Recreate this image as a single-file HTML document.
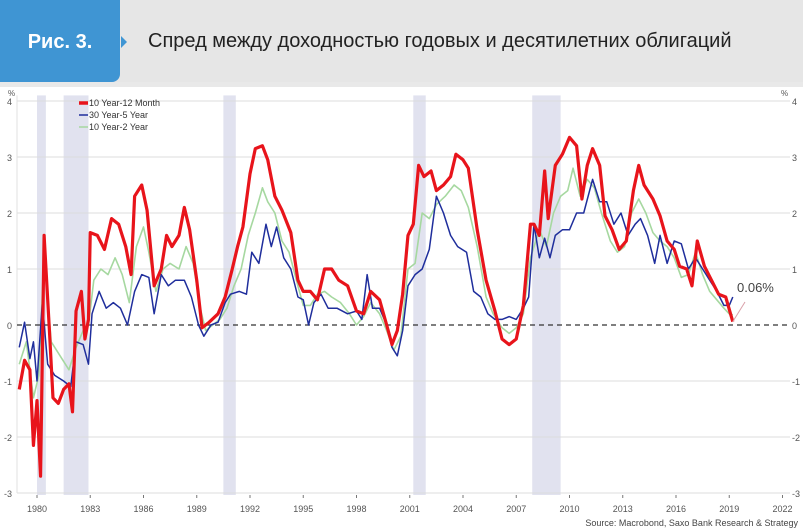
<!DOCTYPE html>
<html><head><meta charset="utf-8"><style>
body{margin:0;width:803px;height:531px;overflow:hidden;background:#e9e9e9;font-family:"Liberation Sans",sans-serif}
#hdr{position:absolute;left:0;top:0;width:803px;height:82px;background:#e6e6e6}
#tab{position:absolute;left:0;top:0;width:120px;height:82px;background:#3f95d3;border-bottom-right-radius:8px;color:#fff;font-weight:bold;font-size:20px;line-height:84px;text-align:center}
#title{position:absolute;left:148px;top:30px;font-size:20px;color:#222}
#panel{position:absolute;left:0;top:87px;width:803px;height:444px;background:#fff}
</style></head><body>
<div id="hdr"></div>
<div id="tab">Рис. 3.</div>
<div style="position:absolute;left:121px;top:36px;width:0;height:0;border-top:6px solid transparent;border-bottom:6px solid transparent;border-left:6px solid #3f95d3"></div>
<div id="title">Спред между доходностью годовых и десятилетних облигаций</div>
<div id="panel"></div>
<svg id="chart" width="803" height="531" style="position:absolute;left:0;top:0"></svg>
<script>
const redYears=[1979.0,1979.3,1979.6,1979.8,1980.0,1980.2,1980.4,1980.7,1980.9,1981.2,1981.5,1981.8,1982.0,1982.2,1982.5,1982.7,1982.9,1983.0,1983.4,1983.8,1984.2,1984.6,1985.0,1985.3,1985.5,1985.9,1986.2,1986.6,1987.0,1987.3,1987.6,1988.0,1988.3,1988.6,1989.0,1989.3,1989.7,1990.2,1990.6,1991.0,1991.3,1991.6,1992.0,1992.3,1992.7,1993.0,1993.4,1993.8,1994.3,1994.7,1995.0,1995.4,1995.8,1996.2,1996.6,1997.0,1997.5,1998.0,1998.4,1998.8,1999.3,1999.7,2000.0,2000.3,2000.6,2000.9,2001.2,2001.5,2001.8,2002.2,2002.5,2002.9,2003.3,2003.6,2004.0,2004.3,2004.8,2005.3,2005.8,2006.2,2006.6,2007.0,2007.4,2007.8,2008.0,2008.3,2008.6,2008.8,2009.2,2009.6,2010.0,2010.4,2010.7,2011.0,2011.3,2011.7,2012.0,2012.4,2012.8,2013.2,2013.6,2013.9,2014.2,2014.7,2015.1,2015.5,2015.9,2016.2,2016.6,2016.9,2017.2,2017.6,2018.0,2018.4,2018.8,2019.2];
const redValues=[-1.15,-0.63,-0.8,-2.15,-1.35,-2.7,1.6,-0.1,-1.3,-1.4,-1.15,-1.05,-1.55,0.25,0.6,-0.25,0.1,1.65,1.6,1.35,1.9,1.8,1.4,0.9,2.3,2.5,2.05,0.7,1.0,1.6,1.4,1.6,2.1,1.7,0.8,-0.05,0.05,0.2,0.5,1.0,1.4,1.75,2.7,3.15,3.2,2.95,2.3,2.05,1.65,0.8,0.6,0.6,0.45,1.0,1.0,0.8,0.7,0.25,0.2,0.6,0.45,0.0,-0.35,-0.1,0.55,1.6,1.8,2.85,2.65,2.75,2.4,2.5,2.65,3.05,2.95,2.8,1.7,0.8,0.25,-0.25,-0.35,-0.25,0.35,1.8,1.8,1.6,2.75,1.9,2.85,3.05,3.35,3.2,2.25,2.85,3.15,2.85,1.95,1.7,1.35,1.5,2.4,2.85,2.5,2.25,1.95,1.5,1.35,1.05,1.0,0.7,1.5,1.05,0.8,0.55,0.5,0.06];
const blueYears=[1979.0,1979.3,1979.6,1979.8,1980.0,1980.3,1980.6,1981.0,1981.5,1981.9,1982.2,1982.6,1982.9,1983.1,1983.5,1983.9,1984.3,1984.7,1985.1,1985.5,1985.9,1986.3,1986.6,1987.0,1987.4,1987.8,1988.3,1988.7,1989.1,1989.4,1989.8,1990.2,1990.6,1990.9,1991.4,1991.8,1992.1,1992.5,1992.9,1993.2,1993.5,1993.9,1994.3,1994.7,1995.0,1995.3,1995.6,1996.0,1996.4,1996.9,1997.5,1998.0,1998.3,1998.6,1998.9,1999.3,1999.7,2000.0,2000.3,2000.6,2000.9,2001.3,2001.7,2002.1,2002.5,2002.9,2003.3,2003.7,2004.2,2004.6,2005.0,2005.4,2005.8,2006.2,2006.6,2007.0,2007.4,2007.7,2008.0,2008.3,2008.6,2008.9,2009.2,2009.6,2010.0,2010.4,2010.8,2011.3,2011.7,2012.1,2012.5,2012.9,2013.3,2013.7,2014.0,2014.4,2014.8,2015.1,2015.5,2015.9,2016.3,2016.7,2017.1,2017.5,2017.9,2018.3,2018.7,2019.0,2019.2];
const blueValues=[-0.4,0.05,-0.6,-0.3,-1.0,0.4,-0.7,-0.9,-1.0,-1.1,-0.3,-0.35,-0.7,0.2,0.6,0.3,0.4,0.3,0.0,0.6,0.9,0.85,0.2,0.9,0.7,0.8,0.8,0.5,0.0,-0.2,0.0,0.05,0.4,0.55,0.6,0.55,1.3,1.1,1.8,1.4,1.75,1.2,1.0,0.5,0.45,0.0,0.4,0.55,0.3,0.3,0.2,0.25,0.1,0.9,0.3,0.3,0.0,-0.4,-0.55,-0.1,0.7,0.9,1.0,1.35,2.3,2.0,1.6,1.4,1.3,0.6,0.5,0.2,0.1,0.1,0.15,0.1,0.3,0.5,1.8,1.2,1.55,1.2,1.6,1.7,1.7,2.0,2.0,2.6,2.2,2.2,1.8,2.0,1.6,1.8,1.9,1.6,1.1,1.6,1.1,1.5,1.45,1.0,1.2,1.0,0.8,0.6,0.35,0.35,0.5];
const greenYears=[1979.0,1979.4,1979.8,1980.1,1980.4,1980.8,1981.3,1981.8,1982.2,1982.6,1982.9,1983.2,1983.6,1984.0,1984.4,1984.8,1985.2,1985.6,1986.0,1986.3,1986.7,1987.1,1987.5,1988.0,1988.4,1988.8,1989.2,1989.5,1989.9,1990.3,1990.7,1991.1,1991.5,1991.9,1992.3,1992.7,1993.0,1993.4,1993.8,1994.2,1994.7,1995.0,1995.4,1995.8,1996.2,1996.6,1997.1,1997.6,1998.0,1998.4,1998.8,1999.3,1999.7,2000.1,2000.5,2000.9,2001.3,2001.7,2002.1,2002.5,2003.0,2003.5,2003.9,2004.3,2004.8,2005.3,2005.7,2006.2,2006.6,2007.0,2007.4,2007.8,2008.3,2008.7,2009.1,2009.5,2009.9,2010.2,2010.6,2011.0,2011.4,2011.8,2012.3,2012.7,2013.1,2013.5,2013.9,2014.3,2014.7,2015.1,2015.5,2015.9,2016.3,2016.7,2017.1,2017.5,2017.9,2018.3,2018.7,2019.0,2019.2];
const greenValues=[-0.7,-0.3,-1.3,-0.9,1.3,-0.3,-0.55,-0.8,-0.4,-0.1,0.0,0.8,1.0,0.9,1.2,0.9,0.4,1.4,1.75,1.3,0.6,1.0,1.1,1.0,1.4,1.1,0.3,-0.1,0.0,0.1,0.3,0.7,1.0,1.6,2.0,2.45,2.2,2.0,1.5,1.3,0.7,0.35,0.35,0.55,0.6,0.5,0.4,0.2,0.0,0.15,0.4,0.2,-0.1,-0.45,-0.2,1.0,1.1,2.0,1.9,2.15,2.3,2.5,2.4,2.1,1.4,0.5,0.2,-0.05,-0.15,-0.05,0.2,1.2,1.7,1.4,2.0,2.3,2.4,2.8,2.3,2.6,2.45,2.0,1.5,1.3,1.4,2.0,2.25,2.0,1.65,1.5,1.4,1.2,0.85,0.9,1.3,0.9,0.6,0.45,0.3,0.2,0.18];
const recessionStarts=[1980.0,1981.5,1990.5,2001.2,2007.9];
const recessionEnds=[1980.5,1982.9,1991.2,2001.9,2009.5];
const yTicks=[-3,-2,-1,0,1,2,3,4];
const xTicks=[1980,1983,1986,1989,1992,1995,1998,2001,2004,2007,2010,2013,2016,2019,2022];

const NS='http://www.w3.org/2000/svg';
const svg=document.getElementById('chart');
const X=t=>37+(t-1980)*17.75;
const Y=v=>325-v*56;
const L=17,R=790;
function mk(tag,attrs,parent){const e=document.createElementNS(NS,tag);for(const k in attrs)e.setAttribute(k,attrs[k]);(parent||svg).appendChild(e);return e;}
for(let i=0;i<recessionStarts.length;i++){
  const r=mk('rect',{x:X(recessionStarts[i]),y:Y(4.1),width:X(recessionEnds[i])-X(recessionStarts[i]),height:Y(-3)-Y(4.1)+2,fill:'#e1e2ef'});
  
  
}
yTicks.forEach(v=>{
  if(v!==0){const g=mk('line',{x1:L,x2:R,y1:Y(v),y2:Y(v),stroke:'#dcdcdc','stroke-width':1});
  
  }
  const t1=mk('text',{x:12,y:Y(v)+4,'font-size':9,fill:'#555','text-anchor':'end'});t1.textContent=v;
  
  
  const t2=mk('text',{x:792,y:Y(v)+4,'font-size':9,fill:'#555'});t2.textContent=v;
  
  
});
mk('line',{x1:L,x2:L,y1:Y(4.1),y2:Y(-3),stroke:'#e0e0e0'});
xTicks.forEach(t=>{
  mk('line',{x1:X(t),x2:X(t),y1:Y(-3)+2,y2:Y(-3)+5,stroke:'#777'});
  const tx=mk('text',{x:X(t),y:512,'font-size':9,fill:'#555','text-anchor':'middle'});tx.textContent=t;
  
  
});
const zl=mk('line',{x1:L,x2:R,y1:Y(0),y2:Y(0),stroke:'#333','stroke-dasharray':'5,4','stroke-width':1.2});


function series(xs,vs,color,w,name){
  const p=mk('polyline',{points:xs.map((t,i)=>X(t)+','+Y(vs[i])).join(' '),fill:'none',stroke:color,'stroke-width':w,'stroke-linejoin':'round'});
  
  
}
series(greenYears,greenValues,'#a6d8a0',1.6,'series-10y-2y');
series(blueYears,blueValues,'#1f2e9c',1.5,'series-30y-5y');
series(redYears,redValues,'#e8141b',3.2,'series-10y-12m');
const u1=mk('text',{x:8,y:96,'font-size':8,fill:'#555'});u1.textContent='%';


const u2=mk('text',{x:781,y:96,'font-size':8,fill:'#555'});u2.textContent='%';


const leg=[['10 Year-12 Month','#e8141b',3.5],['30 Year-5 Year','#1f2e9c',1.5],['10 Year-2 Year','#a6d8a0',1.5]];
leg.forEach((l,i)=>{
  const g=mk('g',{});
  
  
  mk('line',{x1:79,x2:88,y1:103+i*12,y2:103+i*12,stroke:l[1],'stroke-width':l[2]},g);
  const t=mk('text',{x:89,y:106+i*12,'font-size':9,fill:'#333'},g);t.textContent=l[0];
});
const al=mk('line',{x1:X(2019.2),y1:Y(0.06),x2:745,y2:302,stroke:'#d9a0a8','stroke-width':1});


const at=mk('text',{x:737,y:292,'font-size':13,fill:'#444'});at.textContent='0.06%';


const src=mk('text',{x:798,y:526,'font-size':9,fill:'#444','text-anchor':'end'});src.textContent='Source: Macrobond, Saxo Bank Research & Strategy';


</script>
</body></html>
